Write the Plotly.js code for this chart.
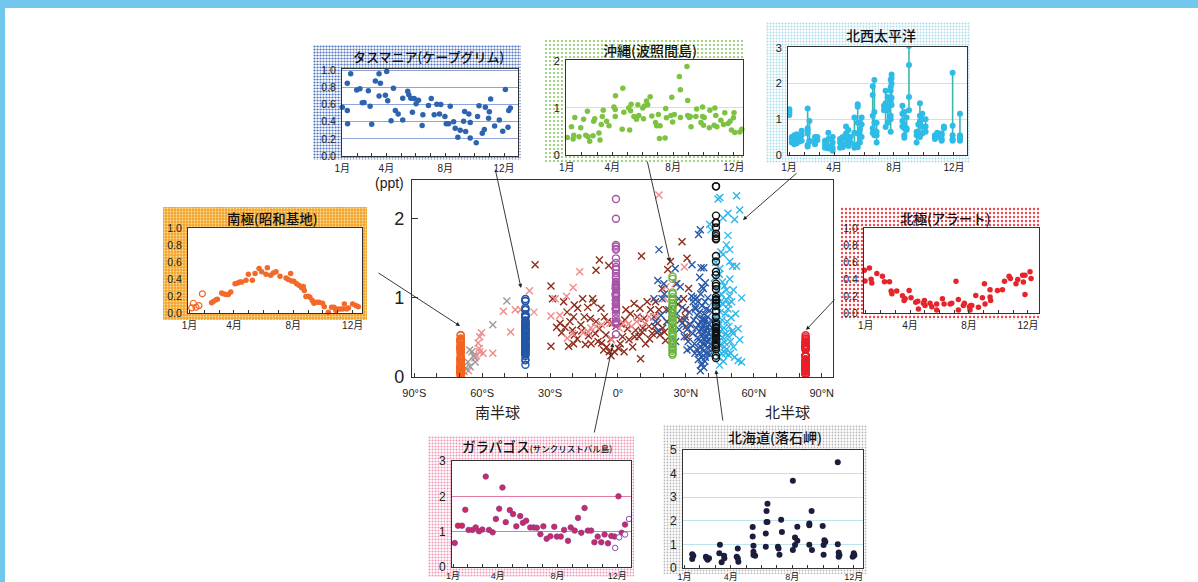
<!DOCTYPE html>
<html><head><meta charset="utf-8">
<script src="https://cdn.plot.ly/plotly-3.0.1.min.js"></script>
<style>html,body{margin:0;padding:0;background:#fff}#chart{width:1198px;height:582px}</style>
</head><body><div id="chart"></div>
<script>
// ================= DATA =================
// station latitudes (deg, S negative)
const syoLat = -69.5, tasLat = -40.9, galLat = -0.9, okiLat = 24.1, hokLat = 43.3, aleLat = 82.9;

// main-plot latitude tick labels
const latTickVals = [-90,-80,-70,-60,-50,-40,-30,-20,-10,0,10,20,30,40,50,60,70,80,90];
const latTickText = ['90°S','','','60°S','','','30°S','','','0°','','','30°N','','','60°N','','','90°N'];
const monthTickVals = [1,2,3,4,5,6,7,8,9,10,11,12];
const monthTickText = ['1月','','','4月','','','','8月','','','','12月'];

// Tasmania (Cape Grim)
const tasMonth = [1.0,1.34,1.36,1.34,1.57,1.98,2.2,2.36,2.48,2.77,2.89,3.0,3.25,3.5,3.5,3.59,3.93,4.02,4.09,4.32,4.48,4.61,4.8,5.11,5.11,5.45,5.52,5.66,5.77,5.89,6.02,6.18,6.43,6.48,6.86,7.05,7.25,7.43,7.61,7.7,7.98,8.07,8.23,8.34,8.57,8.68,8.86,9.02,9.25,9.32,9.39,9.61,9.7,9.7,10.11,10.2,10.3,10.52,10.66,10.73,10.95,11.0,11.09,11.36,11.68,11.91,12.09,12.27,12.32,12.43];
const tasVal = [0.57,0.53,0.375,0.85,0.96,0.77,0.785,0.62,0.625,0.76,0.58,0.37,0.875,0.96,0.70,0.85,0.71,0.985,0.645,0.41,0.79,0.53,0.49,0.675,0.42,0.755,0.715,0.675,0.51,0.67,0.61,0.65,0.355,0.48,0.59,0.67,0.48,0.605,0.49,0.6,0.46,0.375,0.375,0.58,0.40,0.325,0.22,0.30,0.405,0.52,0.285,0.49,0.39,0.21,0.155,0.46,0.585,0.265,0.31,0.57,0.44,0.515,0.665,0.35,0.42,0.29,0.775,0.335,0.53,0.56];

// Okinawa (Hateruma)
const okiMonth = [0.91,1.04,1.31,1.42,1.46,1.53,1.81,1.92,2.11,2.25,2.36,2.4,2.51,2.73,2.77,2.84,3.12,3.19,3.27,3.34,3.4,3.62,3.78,4.1,4.19,4.21,4.19,4.65,4.69,4.76,5.07,5.14,5.2,5.24,5.42,5.59,5.68,5.74,6.0,6.05,6.11,6.25,6.33,6.49,6.6,6.84,6.92,7.03,7.1,7.14,7.47,7.51,7.56,7.86,7.91,7.97,8.08,8.41,8.48,8.48,8.91,8.96,8.96,9.07,9.18,9.13,9.5,9.55,9.83,9.94,9.94,10.0,10.05,10.38,10.42,10.7,10.75,10.81,10.88,11.14,11.32,11.4,11.62,11.75,11.84,11.97,12.01,12.06,12.39,12.52];
const okiVal = [0.48,0.37,0.6,0.34,0.42,0.8,0.39,0.58,0.76,0.42,0.93,0.39,0.29,0.41,0.72,0.77,0.47,0.32,0.65,0.82,0.95,0.72,0.62,1.02,0.97,1.26,0.82,0.55,1.42,0.91,1.0,0.53,0.94,1.08,0.82,0.76,1.07,0.84,1.0,0.77,1.04,1.15,1.07,1.24,0.83,0.69,0.62,0.86,0.35,0.62,0.36,0.99,0.79,0.84,1.23,0.7,0.86,1.67,1.39,0.8,1.88,1.16,0.84,0.8,0.6,0.82,0.82,0.98,0.69,1.02,0.82,0.63,0.8,0.58,0.95,0.63,1.0,0.84,0.6,0.74,0.65,0.9,0.67,0.72,0.53,0.79,0.9,0.48,0.49,0.55];
const okiMainVal = [1.27,1.24,1.07,1.05,1.01,0.98,0.97,0.93,0.9,0.89,0.86,0.82,0.81,0.77,0.76,0.74,0.71,0.69,0.68,0.64,0.62,0.61,0.57,0.55,0.52,0.51,0.47,0.46,0.43,0.41,0.38,0.35,0.33,0.3,0.28];

// NW Pacific (ship cruises: month, values measured at that time)
const nwpMonth = [1.02,1.18,1.35,1.51,1.7,1.84,2.24,2.36,2.73,2.89,3.4,3.62,3.91,4.4,4.58,4.8,4.96,5.11,5.36,5.58,5.73,5.84,6.58,6.69,6.84,7.33,7.44,7.58,7.78,7.84,8.56,8.69,8.84,9.0,9.51,9.62,9.73,9.89,10.11,10.73,10.89,11.18,11.33,11.91,12.4];
const nwpValues = [
 [1.28,1.2,1.12],[0.5,0.45,0.35],[0.55,0.42,0.3],[0.58,0.45,0.33],[0.45,0.38],
 [0.68,0.55,0.4],[1.3,0.75,0.68,0.6,0.28,0.24],[0.95,0.4,0.38],[0.5,0.4,0.3],[0.5,0.42],
 [0.4,0.3,0.2],[0.62,0.45,0.25,0.18],[0.5,0.35,0.2,0.12],[0.45,0.35,0.2],[0.5,0.3,0.22],
 [0.8,0.6,0.45,0.3],[0.7,0.5,0.35,0.25],[0.5,0.35],[1.05,0.62,0.25,0.2],[1.42,1.35,0.9,0.6,0.3,0.22],
 [0.9,0.72,0.5,0.35],[1.05,0.85,0.5],[1.92,1.68,1.1,0.75,0.62],[2.1,1.2,0.9,0.55],[0.9,0.65,0.55,0.35],
 [1.38,1.25],[1.8,1.45,0.78],[1.62,1.35,1.25,0.9],[2.1,1.9,1.8,1.5,1.1,1.0,0.65],[2.25,2.15,2.0,1.6,1.4],
 [1.38,1.15,0.95,0.8],[1.2,0.85,0.75,0.55,0.48],[1.05,0.75,0.7],[3.05,2.52,1.62,1.25],[0.65,0.55,0.35],
 [0.85,0.6],[1.45,1.1,0.95,0.6,0.5],[1.15,1.0,0.8,0.6],[1.0,0.8,0.65],[0.55,0.5,0.45],
 [0.62,0.5],[0.6,0.55,0.45,0.4],[0.8,0.75],[2.3,0.82,0.55,0.45,0.42,0.4],[1.15,0.55,0.5,0.45,0.4]
];

// Antarctica (Syowa)
const syoOpenMonth = [1.15,1.26,1.44,1.64,1.87];
const syoOpenVal = [0.06,0.115,0.067,0.087,0.226];
const syoMonth = [2.49,2.6,2.79,2.88,3.17,3.28,3.46,3.62,3.78,4.07,4.25,4.4,4.52,4.81,4.97,5.24,5.42,5.69,5.87,6.16,6.25,6.47,6.65,6.83,7.1,7.51,7.66,7.82,7.89,8.04,8.22,8.4,8.56,8.67,8.74,8.85,9.01,9.12,9.28,9.39,9.57,9.73,9.97,10.09,10.36,10.58,10.74,10.87,10.96,11.15,11.33,11.44,11.6,11.71,12.0,12.22,12.38];
const syoVal = [0.12,0.135,0.155,0.163,0.234,0.226,0.218,0.218,0.246,0.345,0.353,0.365,0.365,0.385,0.456,0.385,0.464,0.524,0.484,0.456,0.532,0.444,0.472,0.484,0.433,0.413,0.393,0.464,0.377,0.373,0.345,0.325,0.298,0.313,0.266,0.194,0.198,0.186,0.147,0.115,0.127,0.127,0.115,0.075,0.008,0.067,0.067,0.028,0.048,0.048,0.048,0.107,0.048,0.06,0.107,0.087,0.075];

// Arctic (Alert)
const aleMonth = [0.91,0.95,1.25,1.36,1.41,1.75,2.13,2.27,2.61,2.72,2.77,3.1,3.49,3.6,3.67,3.94,4.07,4.39,4.53,4.57,4.91,4.98,5.02,5.36,5.48,5.81,5.81,6.2,6.31,6.72,6.83,7.12,7.28,7.28,7.62,7.69,8.03,8.07,8.12,8.19,8.46,8.64,8.91,9.05,9.09,9.43,9.43,9.47,9.93,10.27,10.41,10.72,10.81,11.19,11.31,11.64,11.69,11.8,11.8,12.14,12.21];
const aleVal = [0.504,0.377,0.528,0.397,0.353,0.464,0.433,0.369,0.369,0.258,0.226,0.258,0.202,0.147,0.167,0.266,0.179,0.127,0.139,0.048,0.115,0.147,0.087,0.115,0.075,0.107,0.036,0.167,0.107,0.107,0.115,0.373,0.036,0.159,0.087,0.115,0.075,0.036,0.087,0.087,0.206,0.067,0.179,0.345,0.107,0.274,0.187,0.147,0.266,0.274,0.373,0.433,0.405,0.345,0.393,0.444,0.365,0.444,0.218,0.484,0.405];

// Galapagos (San Cristobal)
const galMonth = [1.11,1.33,1.6,1.82,2.04,2.3,2.52,2.74,2.96,3.19,3.41,3.65,3.87,4.09,4.31,4.53,4.8,5.02,5.24,5.5,5.68,5.9,6.17,6.39,6.61,6.85,7.05,7.27,7.52,7.78,7.95,8.22,8.44,8.7,8.88,9.15,9.37,9.59,9.81,10.03,10.25,10.47,10.69,10.93,11.15,11.38,11.6,11.82,12.08,12.3,12.52];
const galVal = [0.68,1.17,1.17,1.62,1.05,1.05,1.12,1.01,1.06,2.56,1.05,0.98,1.36,1.65,2.25,1.27,1.61,1.5,1.15,1.44,1.25,1.31,1.12,1.12,1.11,0.93,1.15,0.8,0.87,1.14,0.86,0.86,1.05,0.74,1.12,1.03,1.39,0.97,1.67,1.03,1.03,0.7,0.86,0.7,0.92,0.67,0.88,0.86,2.0,0.97,1.2];
const galOpenMonth = [11.86,12.13,12.52,12.79];
const galOpenVal = [0.54,0.84,0.92,1.36];

// Hokkaido (Cape Ochiishi)
const hokMonth = [1.5,1.5,1.57,2.39,2.43,2.5,2.59,3.26,3.3,3.41,3.57,3.59,4.39,4.46,4.46,4.5,5.43,5.43,5.48,5.48,5.48,5.59,6.28,6.28,6.33,6.33,6.39,6.39,7.07,7.11,7.17,7.28,7.33,8.04,8.04,8.18,8.18,8.33,8.33,9.11,9.11,9.11,9.26,9.28,9.98,10.04,10.04,10.09,10.15,10.96,10.96,11.02,11.02,11.07,11.93,12.0,12.0,12.04];
const hokVal = [0.58,0.38,0.52,0.48,0.41,0.35,0.41,0.63,0.98,0.24,0.52,0.41,0.48,0.83,0.41,0.27,1.74,1.33,0.94,0.69,0.55,0.52,1.46,0.9,2.41,1.95,2.72,1.95,0.9,0.83,0.56,2.04,1.53,3.7,0.76,1.29,0.97,1.15,1.75,1.89,1.81,0.98,2.41,0.76,1.78,0.97,0.56,1.18,1.11,4.48,1.01,0.66,0.48,0.55,0.48,0.62,0.52,0.55];

// ship / aircraft observations in main plot (latitude, ppt)
const brownLat = [-36.6,-29.6,-28.9,-29.6,-21.8,-19.6,-19.3,-19.6,-20.1,-19.3,-17.8,-16.4,-15.6,-14.9,-14.4,-13.4,-12.2,-11.9,-11.2,-10.7,-9.7,-9.7,-8.2,-8.2,-7.5,-7.2,-6.3,-6.0,-5.3,-4.6,-4.1,-3.8,-3.1,-3.1,-2.4,-1.6,-0.9,1.0,1.3,2.0,2.7,3.5,4.2,4.9,7.1,7.4,7.8,8.5,9.3,9.7,10.0,10.4,10.7,11.5,12.2,12.9,13.7,14.4,15.1,15.9,16.2,16.6,17.1,18.1,18.5,19.5,20.5,21.0,21.4,22.0,21.7,23.2,28.3,29.0,29.8,30.2,30.5,30.5,31.2,29.8,-24.9,-23.4,-21.2,-25.6,-27.1,-18.0,-16.0,-13.0,-10.0,-8.8,-5.0,0.3,3.0,5.5,6.5,11.0,14.0,17.5,19.8,26.5,27.5,-22.5,-24.0];
const brownVal = [1.42,1.15,0.99,0.39,0.39,0.42,0.91,0.76,0.59,0.53,0.87,0.66,0.99,0.76,0.41,0.88,0.74,0.42,0.99,0.94,1.35,0.70,1.48,0.61,0.87,0.43,0.34,0.76,0.53,0.70,1.41,0.32,0.48,0.27,0.68,0.32,0.64,0.42,0.67,0.51,0.32,0.85,0.61,0.47,0.93,0.51,0.59,0.76,0.51,0.87,0.23,1.53,0.57,0.74,0.42,0.95,0.64,0.85,0.55,0.76,0.64,0.95,0.57,0.85,0.53,1.12,0.57,0.46,0.85,1.36,0.70,1.46,1.71,0.99,0.76,0.64,1.50,0.51,1.12,0.85,0.56,0.63,0.70,0.68,0.63,0.48,0.58,0.52,0.55,0.45,0.38,0.36,0.72,0.80,0.38,0.62,0.48,0.68,0.62,0.92,0.72,0.82,0.95];
const pinkLat = [-61.1,-60.3,-61.1,-61.8,-59.6,-61.3,-62.5,-63.2,-66.1,-55.3,-50.6,-47.4,-45.4,-39.1,-37.1,-29.6,-25.7,-27.7,-22.7,-19.8,-16.9,-15.3,-13.1,-9.7,-7.2,-3.5,2.4,4.6,6.0,8.2,11.9,13.8,17.0,20.7,18.1,29.3,25.3,21.2,-2.8,-20.1,-22.4,-43.0,-12.0,0.5,10.0];
const pinkVal = [0.32,0.56,0.51,0.43,0.30,0.36,0.27,0.24,0.08,0.30,0.83,0.57,0.85,1.09,0.82,0.77,0.78,0.99,1.02,1.13,1.33,0.56,0.57,0.64,0.66,0.68,0.68,0.67,0.64,0.70,0.68,0.76,0.76,0.99,2.30,1.39,1.18,1.14,0.47,0.55,0.49,0.85,0.62,0.62,0.73];
const greyLat = [-49.1,-55.3,-64.5,-65.5,-63.8,-66.3,-67.3,-63.1,-65.3,-68.0];
const greyVal = [0.96,0.66,0.32,0.34,0.27,0.19,0.11,0.19,0.13,0.07];
const navyLat = [33.0,33.5,33.8,34.2,34.5,34.8,35.0,35.2,35.4,35.6,35.8,36.0,36.1,36.3,36.4,36.6,36.7,36.9,37.0,37.1,37.2,37.4,37.5,37.6,37.7,37.8,38.0,38.1,38.2,38.3,38.4,38.5,38.6,38.7,38.8,39.0,39.1,39.2,39.3,39.5,39.6,39.7,39.8,40.0,40.2,40.3,40.5,40.7,40.8,41.0,41.2,41.5,41.8,42.0,34.0,35.5,36.8,37.9,31.5,32.0,31.0,32.5,33.2,30.5,29.5,28.5,27.0,26.0,25.5,24.0,22.5,21.5,20.5,19.0,18.0,18.1,17.6,15.9,16.6,19.5,20.3,25.3,26.0,26.8,27.5,28.3,29.3,30.5,32.0,32.7,33.4,34.2,34.9,35.6,36.4,36.1,36.7,37.1,37.6,37.9,38.6,36.4,37.1,38.6];
const navyVal = [0.55,0.72,0.42,0.88,0.62,0.35,0.78,0.50,0.95,0.66,0.30,0.58,0.82,0.45,0.70,1.05,0.38,0.60,0.25,0.90,0.52,0.74,0.42,0.64,1.12,0.33,0.56,0.80,0.47,0.68,0.20,0.95,0.58,0.40,0.72,0.50,0.86,0.30,0.62,0.45,0.76,1.00,0.55,0.36,0.66,0.48,0.84,0.28,0.60,0.42,0.72,0.52,0.35,0.62,0.30,0.22,0.15,0.12,0.82,0.66,0.45,1.02,0.95,0.60,0.72,0.88,0.60,0.80,0.45,0.62,0.85,0.70,1.05,0.78,0.58,1.61,1.22,0.99,0.70,0.99,1.18,1.37,1.18,0.99,1.14,0.68,0.51,0.34,0.36,1.42,1.00,0.86,1.00,1.80,1.86,1.26,1.38,1.14,0.72,1.38,1.19,0.08,0.17,0.25];
const cyanLat = [42.0,42.3,42.6,43.0,43.5,43.8,44.0,44.2,44.4,44.6,44.8,45.0,45.2,45.4,45.6,45.8,46.0,46.2,46.4,46.6,46.8,47.0,47.2,47.4,47.6,47.8,48.0,48.2,48.4,48.6,48.8,49.0,49.3,49.6,50.0,50.5,51.0,51.5,43.2,45.5,47.9,49.4,49.4,52.4,50.6,54.6,53.1,53.8,53.1,54.6,44.2,45.0,52.4,53.8,48.6,51.5,46.4,40.5,41.2,48.6,46.4,45.0,49.4,47.9,44.5,46.1,45.3,43.7,47.5,48.9,42.8,44.9,46.9,50.2,51.0,52.0,49.8,50.8];
const cyanVal = [0.95,0.55,1.25,0.35,0.75,1.10,0.48,0.88,0.25,0.65,1.30,0.40,0.82,0.58,1.05,0.30,0.72,0.50,0.92,0.20,0.62,1.15,0.44,0.80,0.55,0.98,0.35,0.70,0.52,0.86,0.28,0.64,1.02,0.45,0.75,0.58,0.38,0.25,1.45,1.58,1.67,1.61,1.46,1.40,1.40,1.00,0.61,0.47,0.21,0.19,2.25,2.27,2.29,2.11,2.07,1.99,2.01,1.93,1.86,1.79,1.55,1.37,1.24,1.10,1.00,1.20,0.95,0.60,0.30,0.92,0.45,0.15,0.38,0.95,1.10,0.80,0.30,0.55];

// ================= BUILD =================
const W = 1198, H = 582;
const dx = (a,b)=>[a/W,b/W];
const dy = (t,b)=>[1-b/H,1-t/H];
const FONT = 'Liberation Sans, Noto Sans CJK JP, sans-serif';
const JFONT = 'Noto Sans CJK JP, sans-serif';
const traces = [];
function sc(xa, ya, x, y, marker, extra){
  traces.push(Object.assign({type:'scatter', mode:'markers', x:x, y:y, xaxis:xa, yaxis:ya, marker:marker, hoverinfo:'skip', showlegend:false}, extra||{}));
}
const cross = c => ({symbol:'x-thin', size:7, color:c, line:{color:c, width:1.4}});
const ring = c => ({symbol:'circle-open', size:7, color:c, line:{color:c, width:1.4}});
const col = (arr, v) => arr.map(() => v);

// main plot
sc('x','y', brownLat, brownVal, cross('#8E2C1C'));
sc('x','y', pinkLat, pinkVal, cross('#F08A8A'));
sc('x','y', greyLat, greyVal, cross('#9A9A9A'));
sc('x','y', navyLat, navyVal, cross('#2858A8'));
sc('x','y', cyanLat, cyanVal, cross('#2DB6E8'));
const syoAll = syoOpenVal.concat(syoVal);
const galAll = galVal.concat(galOpenVal);
sc('x','y', col(syoAll, syoLat), syoAll, ring('#F26522'));
sc('x','y', col(tasVal, tasLat), tasVal, ring('#2356A6'));
sc('x','y', col(galAll, galLat), galAll, ring('#A855A8'));
sc('x','y', col(okiMainVal, okiLat), okiMainVal, ring('#6CB33F'));
sc('x','y', col(hokVal, hokLat), hokVal, ring('#111111'));
sc('x','y', col(aleVal, aleLat), aleVal, ring('#E8202A'));

// insets
const dot = (c, s) => ({symbol:'circle', size:s||5.5, color:c, line:{width:0}});
sc('x2','y2', tasMonth, tasVal, dot('#2E63B0'), {cliponaxis:false});
sc('x3','y3', okiMonth, okiVal, dot('#7DC241'), {cliponaxis:false});
// NW Pacific vertical segments
const segX = [], segY = [], nwpX = [], nwpY = [];
nwpMonth.forEach((m, i) => {
  const v = nwpValues[i];
  segX.push(m, m, null); segY.push(Math.max(...v), Math.min(...v), null);
  v.forEach(val => { nwpX.push(m); nwpY.push(val); });
});
traces.push({type:'scatter', mode:'lines', x:segX, y:segY, xaxis:'x4', yaxis:'y4', line:{color:'#3AB7AE', width:1.6}, hoverinfo:'skip', showlegend:false});
sc('x4','y4', nwpX, nwpY, dot('#2EBBE8', 6));
sc('x5','y5', syoOpenMonth, syoOpenVal, {symbol:'circle-open', size:6, color:'#F26522', line:{color:'#F26522', width:1.2}}, {cliponaxis:false});
sc('x5','y5', syoMonth, syoVal, dot('#F26A2A'), {cliponaxis:false});
sc('x6','y6', aleMonth, aleVal, dot('#E6242B'), {cliponaxis:false});
sc('x7','y7', galMonth, galVal, {symbol:'circle', size:5.5, color:'#D1285E', line:{color:'#7D3E9E', width:0.8}}, {cliponaxis:false});
sc('x7','y7', galOpenMonth, galOpenVal, {symbol:'circle', size:5.5, color:'#ffffff', line:{color:'#8E4AAE', width:1}}, {cliponaxis:false});
sc('x8','y8', hokMonth, hokVal, dot('#1C1C3C', 6), {cliponaxis:false});

const layout = {
  width: W, height: H, margin:{l:0,r:0,t:0,b:0},
  paper_bgcolor:'#ffffff', plot_bgcolor:'rgba(0,0,0,0)',
  font:{family:FONT, color:'#222'},
  showlegend:false,
  xaxis:{domain:dx(412,833), range:[-91,95], anchor:'y', tickmode:'array', tickvals:latTickVals, ticktext:latTickText,
    ticks:'inside', ticklen:4, tickcolor:'#333', showline:true, mirror:true, linecolor:'#333', linewidth:1.2,
    showgrid:false, zeroline:false, tickfont:{family:FONT, size:11, color:'#222'}, ticklabelstandoff:6, fixedrange:true},
  yaxis:{domain:dy(180,377), range:[0,2.49], anchor:'x', tickmode:'array', tickvals:[0,1,2],
    ticks:'inside', ticklen:6, tickcolor:'#333', showline:true, mirror:true, linecolor:'#333', linewidth:1.2,
    showgrid:false, zeroline:false, tickfont:{family:FONT, size:18, color:'#222'}, ticklabelstandoff:3, fixedrange:true},
  shapes:[], images:[], annotations:[]
};

function pattern(w, h, bg, dotc, s, r){
  const svg = "<svg xmlns='http://www.w3.org/2000/svg' width='"+w+"' height='"+h+"'><defs><pattern id='p' width='"+s+"' height='"+s+"' patternUnits='userSpaceOnUse'><rect width='"+s+"' height='"+s+"' fill='"+bg+"'/><circle cx='"+(s/2)+"' cy='"+(s/2)+"' r='"+r+"' fill='"+dotc+"'/></pattern></defs><rect width='"+w+"' height='"+h+"' fill='url(#p)'/></svg>";
  return 'data:image/svg+xml;base64,' + btoa(svg);
}

const insets = [
  {n:2, box:[313,521,45,160], plot:[342,518,69,156], xr:[0.98,12.95], yr:[0,1.015], ytv:[0,0.2,0.4,0.6,0.8,1.0], ytt:['0.0','0.2','0.4','0.6','0.8','1.0'], grid:'#8EA5D8', pat:['#ffffff','#4F75C2',3,1.1], title:'タスマニア(ケープグリム)', tx:428, ty:57, ts:13, yfs:10.5, xfs:10, xso:3},
  {n:3, box:[544,745,39,162], plot:[566,743,60,155], xr:[0.95,12.6], yr:[0,2.02], ytv:[0,1,2], ytt:['0','1','2'], grid:'#CBE8B5', pat:['#ffffff','#8CC965',4,1.1], title:'沖縄(波照間島)', tx:650, ty:50, ts:14, yfs:11, xfs:10, xso:3},
  {n:4, box:[766,970,22,163], plot:[788,967,47,155], xr:[0.93,12.87], yr:[0,3.02], ytv:[0,1,2,3], ytt:['0','1','2','3'], grid:'#C3E7EE', pat:['#ffffff','#AEDDEA',3,1.0], title:'北西太平洋', tx:881, ty:35, ts:14, yfs:11, xfs:10, xso:3},
  {n:5, box:[163,367,207,320], plot:[188,362,228,313], xr:[0.9,12.63], yr:[0,1.0], ytv:[0,0.2,0.4,0.6,0.8,1.0], ytt:['0.0','0.2','0.4','0.6','0.8','1.0'], grid:null, pat:['#F3A52E','#FBE0A0',3,0.9], title:'南極(昭和基地)', tx:272, ty:218, ts:13.5, yfs:10.5, xfs:10, xso:3},
  {n:6, box:[840,1040,207,320], plot:[864,1039,228,313], xr:[0.88,12.75], yr:[0,1.0], ytv:[0,0.2,0.4,0.6,0.8,1.0], ytt:['0.0','0.2','0.4','0.6','0.8','1.0'], grid:null, pat:['#ffffff','#E9474D',4,1.2], title:'北極(アラート)', tx:945, ty:218, ts:13.5, yfs:10.5, xfs:10, xso:3},
  {n:7, box:[428,634,436,577], plot:[452,631,461,567], xr:[0.93,12.92], yr:[0,3.0], ytv:[0,1,2,3], ytt:['0','1','2','3'], grid:'#E07AA0', pat:['#ffffff','#EE92B4',3,1.0], title:'ガラパゴス<span style="font-size:8.5px">(サンクリストバル島)</span>', tx:537, ty:446, ts:13.5, yfs:12, xfs:9, xso:0},
  {n:8, box:[663,867,425,574], plot:[683,863,450,568], xr:[0.9,12.6], yr:[0,5.0], ytv:[0,1,2,3,4,5], ytt:['0','1','2','3','4','5'], grid:'#BFE3EA', pat:['#ffffff','#B8B8B8',3,0.9], title:'北海道(落石岬)', tx:775, ty:437, ts:14, yfs:12, xfs:9, xso:0}
];

insets.forEach(c => {
  const [bx0,bx1,by0,by1] = c.box, [x0,x1,y0,y1] = c.plot;
  layout.images.push({source:pattern(bx1-bx0, by1-by0, c.pat[0], c.pat[1], c.pat[2], c.pat[3]),
    xref:'paper', yref:'paper', x:bx0/W, y:1-by0/H, sizex:(bx1-bx0)/W, sizey:(by1-by0)/H,
    xanchor:'left', yanchor:'top', sizing:'stretch', layer:'below'});
  layout.shapes.push({type:'rect', xref:'paper', yref:'paper', x0:x0/W, x1:x1/W, y0:1-y1/H, y1:1-y0/H,
    fillcolor:'#ffffff', line:{width:0}, layer:'below'});
  layout['xaxis'+c.n] = {domain:dx(x0,x1), range:c.xr, anchor:'y'+c.n, tickmode:'array', tickvals:monthTickVals, ticktext:monthTickText,
    ticks:'inside', ticklen:3, tickcolor:'#333', showline:true, mirror:true, linecolor:'#333', linewidth:1,
    showgrid:false, zeroline:false, tickfont:{family:FONT, size:c.xfs, color:'#222'}, ticklabelstandoff:c.xso, fixedrange:true};
  layout['yaxis'+c.n] = {domain:dy(y0,y1), range:c.yr, anchor:'x'+c.n, tickmode:'array', tickvals:c.ytv, ticktext:c.ytt,
    ticks:'', showline:true, mirror:true, linecolor:'#333', linewidth:1,
    showgrid:!!c.grid, gridcolor:c.grid || '#fff', gridwidth:1, zeroline:false,
    tickfont:{family:FONT, size:c.yfs, color:'#222'}, ticklabelstandoff:3, fixedrange:true};
  layout.annotations.push({xref:'paper', yref:'paper', x:c.tx/W, y:1-c.ty/H, text:c.title, showarrow:false,
    xanchor:'center', yanchor:'middle', font:{family:JFONT, size:c.ts, color:'#111', weight:500}});
});

// light-blue page frame
layout.shapes.push({type:'rect', xref:'paper', yref:'paper', x0:0, x1:1, y0:1-8/H, y1:1, fillcolor:'#72C7EF', line:{width:0}, layer:'below'});
layout.shapes.push({type:'rect', xref:'paper', yref:'paper', x0:0, x1:5/W, y0:0, y1:1, fillcolor:'#72C7EF', line:{width:0}, layer:'below'});

// texts
function txt(x, y, t, size, fam){
  layout.annotations.push({xref:'paper', yref:'paper', x:x/W, y:1-y/H, text:t, showarrow:false, xanchor:'center', yanchor:'middle',
    font:{family:fam||FONT, size:size, color:'#222'}});
}
txt(389, 183, '(ppt)', 14);
txt(497, 411, '南半球', 15, JFONT);
txt(787, 411, '北半球', 15, JFONT);

// arrows (head x,y ; tail)
function arrow(hx, hy, tx, ty){
  layout.annotations.push({xref:'paper', yref:'paper', x:hx/W, y:1-hy/H, ax:tx-hx, ay:ty-hy, text:'', showarrow:true,
    arrowhead:2, arrowsize:0.9, arrowwidth:0.9, arrowcolor:'#222', standoff:0});
}
arrow(460, 326, 377, 272);
arrow(521, 288, 495, 168);
arrow(670, 262, 647, 160);
arrow(743, 220, 798, 172);
arrow(806, 330, 836, 298);
arrow(613, 343, 594, 434);
arrow(716, 370, 723, 422);

Plotly.newPlot('chart', traces, layout, {staticPlot:true, displayModeBar:false});
</script>
</body></html>
